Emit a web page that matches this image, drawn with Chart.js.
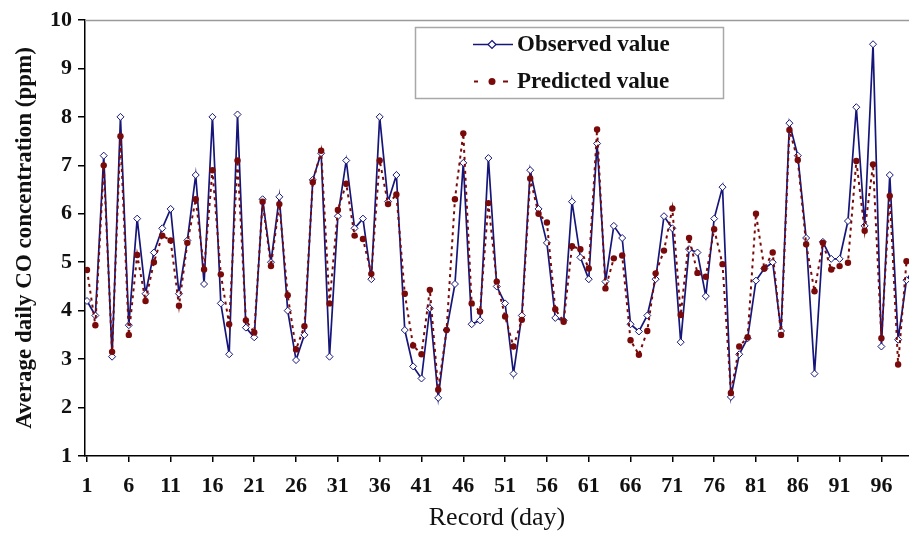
<!DOCTYPE html>
<html>
<head>
<meta charset="utf-8">
<title>Average daily CO concentration</title>
<script src="https://cdn.jsdelivr.net/npm/chart.js@4.4.1/dist/chart.umd.min.js"></script>
<style>
    html, body { margin: 0; padding: 0; background: #ffffff; }
    #wrap { width: 909px; height: 534px; position: relative; }
</style>
</head>
<body>
<div id="wrap"><canvas id="co-chart" width="909" height="534"></canvas></div>
<script>
// Record days and daily CO values (ppm)
const days = [];
for (let d = 1; d <= 100; d++) days.push(d);

const observedValues = [
    4.2, 3.9, 7.2, 3.05, 8.0, 3.7, 5.9, 4.35, 5.2, 5.7,
    6.1, 4.35, 5.45, 6.8, 4.55, 8.0, 4.15, 3.1, 8.05, 3.65,
    3.45, 6.3, 5.0, 6.35, 4.0, 2.98, 3.5, 6.7, 7.25, 3.05,
    5.95, 7.1, 5.7, 5.9, 4.65, 8.0, 6.25, 6.8, 3.6, 2.85,
    2.6, 4.05, 2.2, 3.6, 4.55, 7.05, 3.72, 3.8, 7.15, 4.5,
    4.15, 2.7, 3.9, 6.9, 6.1, 5.4, 3.85, 3.8, 6.25, 5.1,
    4.65, 7.45, 4.6, 5.75, 5.5, 3.72, 3.57, 3.9, 4.65, 5.95,
    5.7, 3.35, 5.27, 5.2, 4.3, 5.9, 6.55, 2.22, 3.1, 3.43,
    4.62, 4.87, 5.0, 3.58, 7.87, 7.2, 5.5, 2.7, 5.42, 5.07,
    5.07, 5.85, 8.2, 5.75, 9.5, 3.26, 6.8, 3.4, 4.63, 4.9
];

const predictedValues = [
    4.84, 3.7, 7.0, 3.15, 7.6, 3.5, 5.15, 4.2, 5.0, 5.55,
    5.45, 4.1, 5.4, 6.3, 4.85, 6.9, 4.75, 3.72, 7.1, 3.8,
    3.55, 6.25, 4.92, 6.2, 4.32, 3.2, 3.68, 6.65, 7.3, 4.15,
    6.08, 6.62, 5.55, 5.48, 4.76, 7.1, 6.2, 6.4, 4.35, 3.28,
    3.1, 4.43, 2.37, 3.6, 6.3, 7.66, 4.15, 3.98, 6.22, 4.6,
    3.88, 3.26, 3.81, 6.73, 6.0, 5.82, 4.03, 3.77, 5.33, 5.27,
    4.87, 7.74, 4.46, 5.08, 5.14, 3.39, 3.09, 3.58, 4.77, 5.24,
    6.11, 3.91, 5.5, 4.78, 4.7, 5.68, 4.96, 2.3, 3.26, 3.45,
    6.0, 4.87, 5.2, 3.5, 7.73, 7.11, 5.37, 4.4, 5.4, 4.85,
    4.92, 4.99, 7.09, 5.65, 7.02, 3.43, 6.37, 2.89, 5.02, 5.1
];

const xTickDays = [1, 6, 11, 16, 21, 26, 31, 36, 41, 46, 51, 56, 61, 66, 71, 76, 81, 86, 91, 96];
const seriesNames = ['Observed value', 'Predicted value'];

const NAVY = '#16167a';
const DARK_RED = '#7a0a0a';
const SERIF = '"Liberation Serif", "Times New Roman", serif';

// Legend box sitting inside the plot, near the top
const insideLegend = {
    id: 'insideLegend',
    afterDatasetsDraw(chart) {
        const ctx = chart.ctx;
        ctx.save();
        ctx.fillStyle = '#ffffff';
        ctx.fillRect(415, 27, 308, 71);
        ctx.strokeStyle = '#a8a8a8';
        ctx.lineWidth = 1.5;
        ctx.strokeRect(415.5, 27.5, 308, 71);

        // observed sample
        ctx.strokeStyle = NAVY;
        ctx.lineWidth = 1.5;
        ctx.beginPath();
        ctx.moveTo(473, 44.5);
        ctx.lineTo(513, 44.5);
        ctx.stroke();
        ctx.fillStyle = '#ffffff';
        ctx.lineWidth = 1.2;
        ctx.beginPath();
        ctx.moveTo(492, 40.5);
        ctx.lineTo(496, 44.5);
        ctx.lineTo(492, 48.5);
        ctx.lineTo(488, 44.5);
        ctx.closePath();
        ctx.fill();
        ctx.stroke();

        // predicted sample: short dash, dot, short dash
        ctx.strokeStyle = DARK_RED;
        ctx.lineWidth = 2;
        ctx.beginPath();
        ctx.moveTo(474, 81.5);
        ctx.lineTo(478, 81.5);
        ctx.moveTo(503, 81.5);
        ctx.lineTo(508, 81.5);
        ctx.stroke();
        ctx.fillStyle = DARK_RED;
        ctx.beginPath();
        ctx.arc(492, 81.5, 3.5, 0, Math.PI * 2);
        ctx.fill();

        ctx.fillStyle = '#111111';
        ctx.font = 'bold 23px ' + SERIF;
        ctx.textAlign = 'left';
        ctx.textBaseline = 'middle';
        ctx.fillText(seriesNames[0], 517, 45);
        ctx.fillText(seriesNames[1], 517, 82);
        ctx.restore();
    }
};

// Grey frame line along the top of the plot
const topFrame = {
    id: 'topFrame',
    beforeDatasetsDraw(chart) {
        const {ctx, chartArea} = chart;
        ctx.save();
        ctx.strokeStyle = '#9a9a9a';
        ctx.lineWidth = 1.5;
        ctx.beginPath();
        ctx.moveTo(chartArea.left, chartArea.top + 0.5);
        ctx.lineTo(chartArea.right, chartArea.top + 0.5);
        ctx.stroke();
        ctx.restore();
    }
};

new Chart(document.getElementById('co-chart'), {
    type: 'line',
    data: {
        datasets: [
            {
                label: seriesNames[0],
                data: days.map((d, i) => ({x: d, y: observedValues[i]})),
                borderColor: NAVY,
                borderWidth: 1.7,
                pointStyle: 'rectRot',
                pointRadius: 3.5,
                pointBackgroundColor: '#ffffff',
                pointBorderColor: NAVY,
                pointBorderWidth: 1,
                tension: 0,
                order: 1
            },
            {
                label: seriesNames[1],
                data: days.map((d, i) => ({x: d, y: predictedValues[i]})),
                borderColor: DARK_RED,
                borderWidth: 2,
                borderDash: [3, 4],
                pointStyle: 'circle',
                pointRadius: 3.2,
                pointBackgroundColor: DARK_RED,
                pointBorderColor: DARK_RED,
                pointBorderWidth: 0,
                tension: 0,
                order: 0
            }
        ]
    },
    options: {
        responsive: false,
        animation: false,
        events: [],
        layout: {
            autoPadding: false,
            padding: {top: 20, right: 0, bottom: 0, left: 0}
        },
        plugins: {
            legend: {display: false},
            tooltip: {enabled: false}
        },
        scales: {
            x: {
                type: 'linear',
                min: 0.76,
                max: 99.3,
                afterBuildTicks: (scale) => {
                    scale.ticks = xTickDays.map(v => ({value: v}));
                },
                afterFit: (scale) => {
                    scale.height = 78;
                    scale.paddingLeft = 0;
                    scale.paddingRight = 0;
                },
                grid: {
                    display: true,
                    drawOnChartArea: false,
                    drawTicks: true,
                    tickLength: 6,
                    color: '#000000',
                    lineWidth: 1.5
                },
                border: {display: true, color: '#000000', width: 1.5},
                ticks: {
                    autoSkip: false,
                    maxRotation: 0,
                    padding: 11,
                    color: '#111111',
                    font: {family: SERIF, size: 22, weight: 'bold'},
                    callback: (v) => String(v)
                },
                title: {
                    display: true,
                    text: 'Record (day)',
                    color: '#111111',
                    font: {family: SERIF, size: 26},
                    padding: {top: 0, bottom: 0}
                }
            },
            y: {
                min: 1,
                max: 10,
                afterFit: (scale) => {
                    scale.width = 85;
                },
                grid: {
                    display: true,
                    drawOnChartArea: false,
                    drawTicks: true,
                    tickLength: 7,
                    color: '#000000',
                    lineWidth: 1.5
                },
                border: {display: true, color: '#000000', width: 1.5},
                ticks: {
                    stepSize: 1,
                    padding: 6,
                    color: '#111111',
                    font: {family: SERIF, size: 22, weight: 'bold'}
                },
                title: {
                    display: true,
                    text: 'Average daily CO concentration (ppm)',
                    color: '#111111',
                    font: {family: SERIF, size: 23, weight: 'bold'},
                    padding: {top: 11, bottom: 0}
                }
            }
        }
    },
    plugins: [topFrame, insideLegend]
});
</script>
</body>
</html>
